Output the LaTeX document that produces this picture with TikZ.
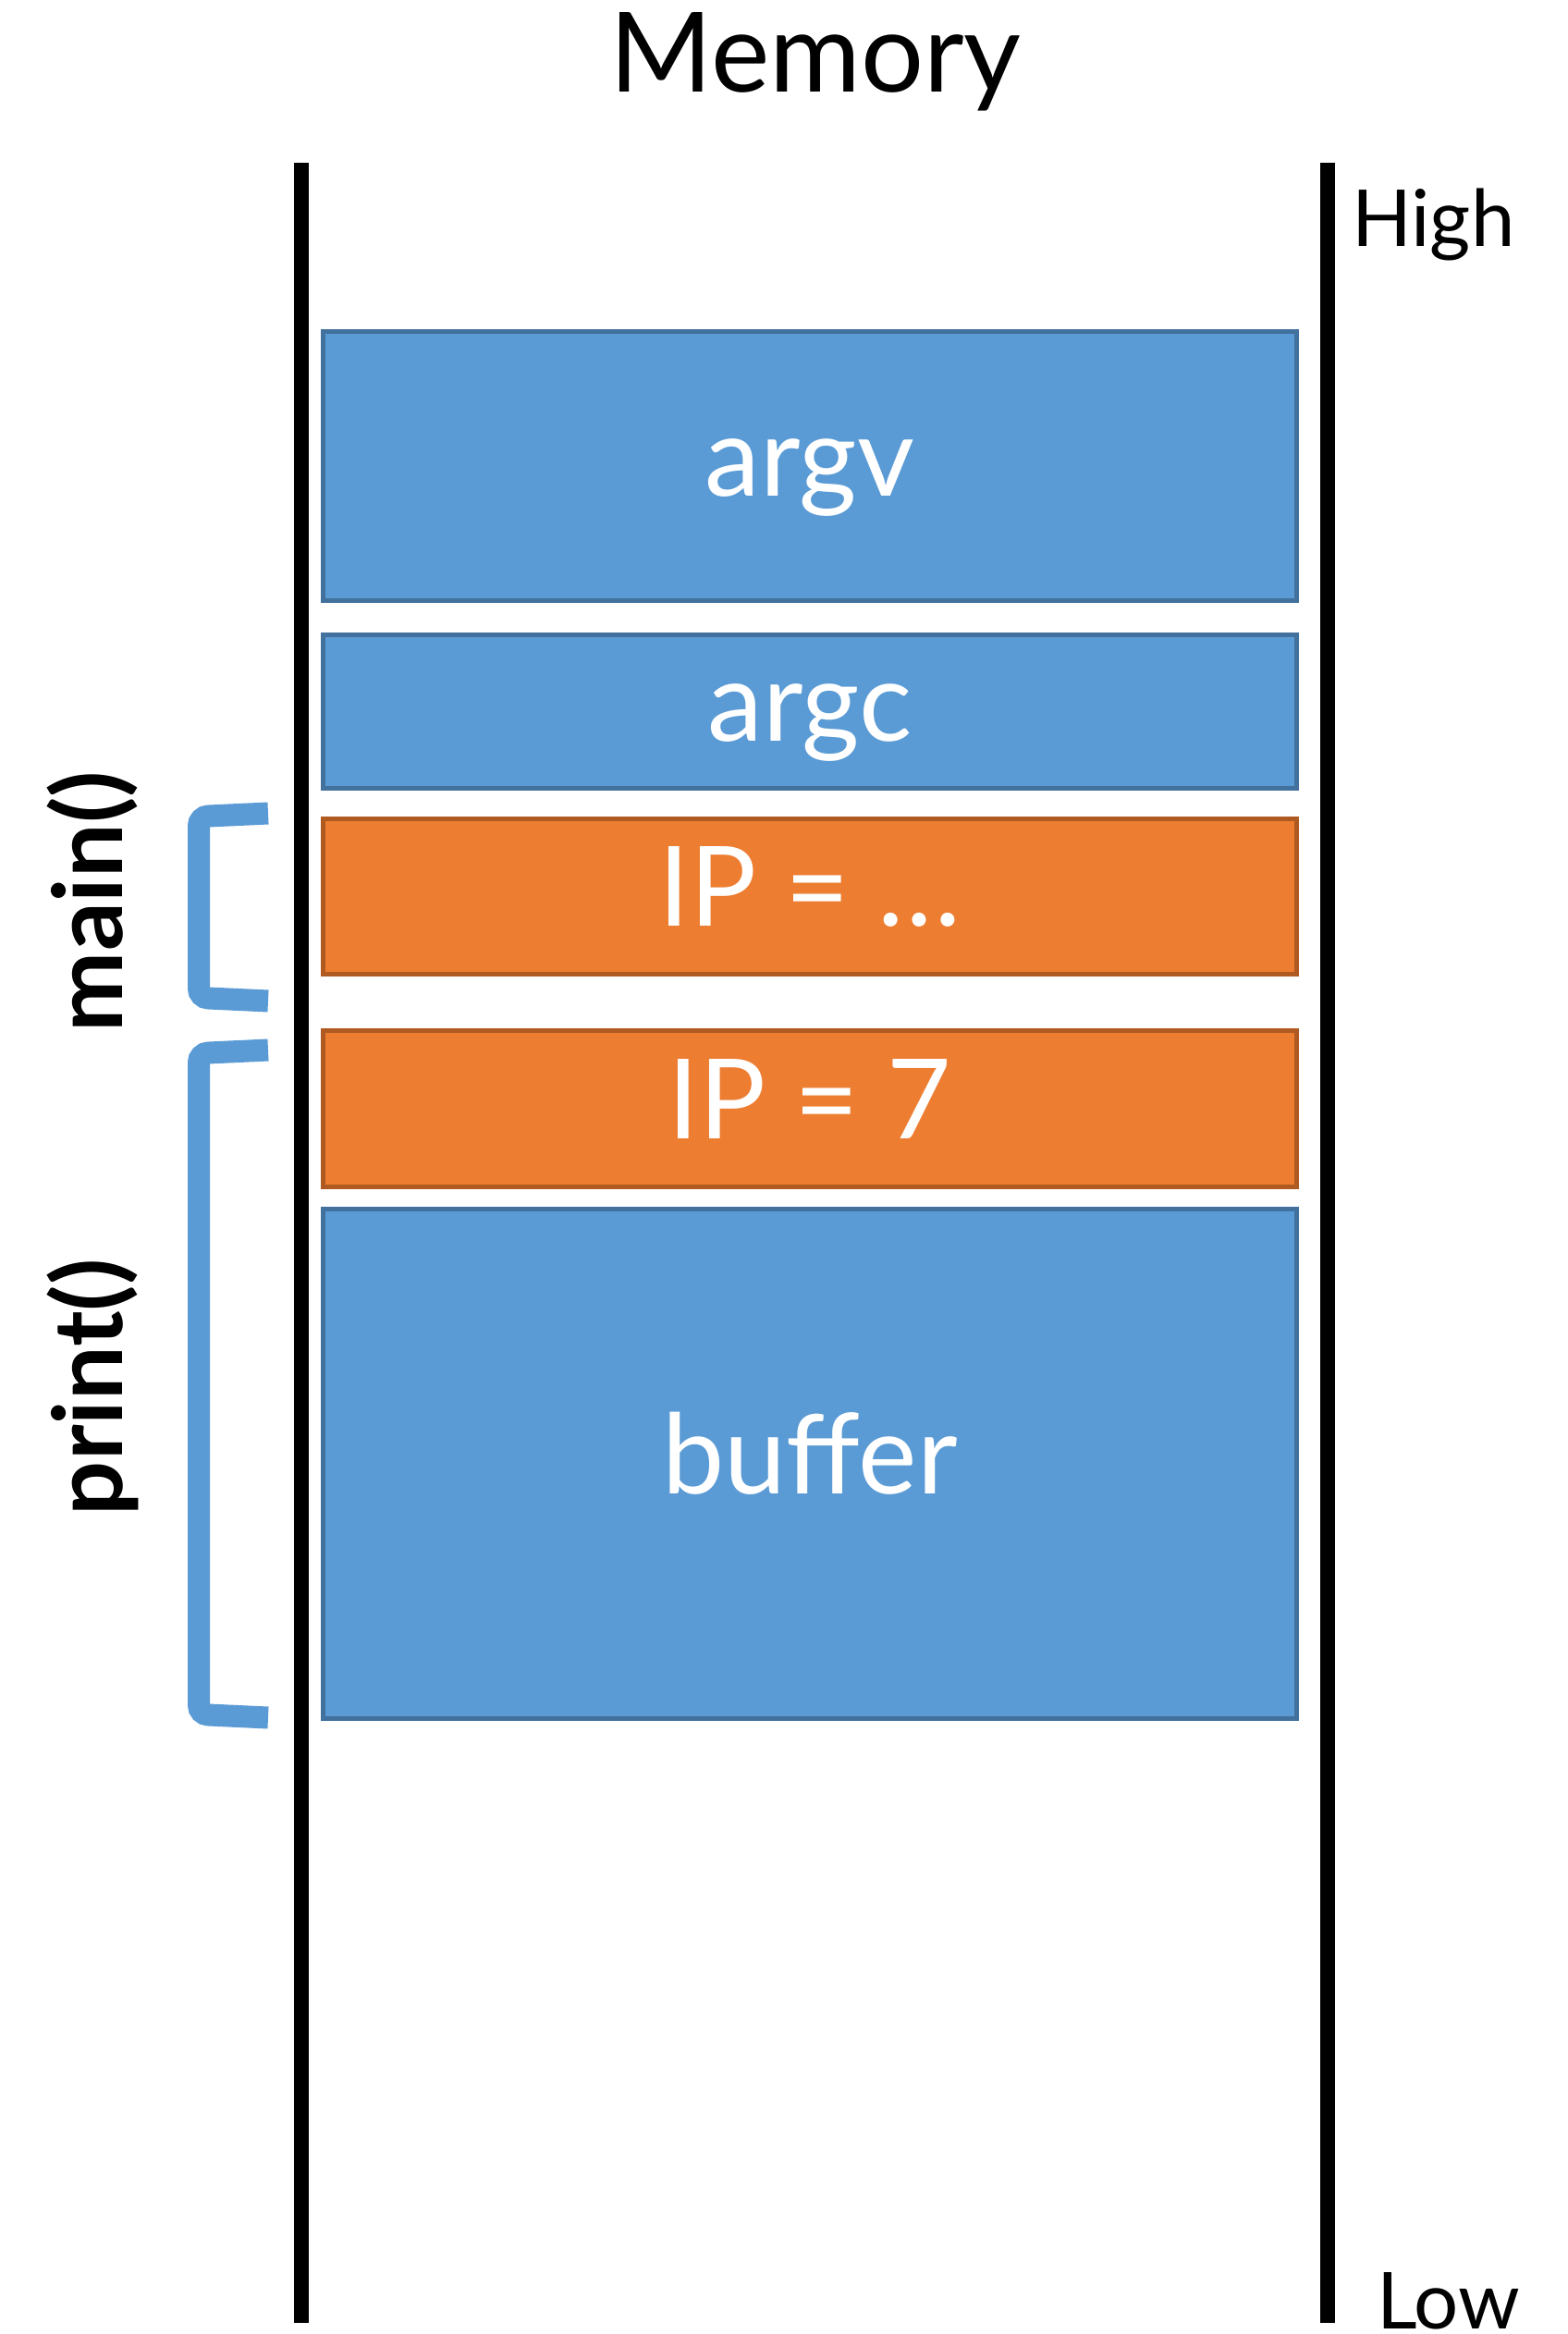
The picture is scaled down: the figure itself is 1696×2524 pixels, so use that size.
\documentclass[tikz,border=0pt]{standalone}
\usepackage{fontspec}
\setmainfont{Lato}
\definecolor{cellblue}{HTML}{5B9BD5}
\definecolor{cellblueedge}{HTML}{41719C}
\definecolor{cellorange}{HTML}{ED7D31}
\definecolor{cellorangeedge}{HTML}{AE5A21}
\begin{document}
\begin{tikzpicture}[x=1pt,y=-1pt,
  cell/.style={draw, line width=5pt, minimum width=1053pt, inner sep=0pt,
    text=white, font=\fontsize{120}{144}\selectfont,
    text height=64pt, text depth=0pt},
  bluecell/.style={cell, fill=cellblue, draw=cellblueedge},
  orangecell/.style={cell, fill=cellorange, draw=cellorangeedge},
  rail/.style={line width=16pt, black},
  framebrace/.style={draw=cellblue, line width=24pt, rounded corners=10pt},
  framelabel/.style={font=\bfseries\fontsize{104}{120}\selectfont,
    rotate=90, anchor=base, inner sep=0pt},
  sidelabel/.style={font=\fontsize{85}{100}\selectfont, anchor=base west, inner sep=0pt}]
\useasboundingbox (0,0) rectangle (1696,2524);

% title
\node[font=\fontsize{120}{144}\selectfont, anchor=base, inner sep=0pt] (title) at (882,99) {Memory};

% address-space rails
\coordinate (lefttop) at (326,176);
\coordinate (leftbot) at (326,2512);
\coordinate (righttop) at (1436,176);
\coordinate (rightbot) at (1436,2512);
\draw[rail] (lefttop) -- (leftbot);
\draw[rail] (righttop) -- (rightbot);
\node[sidelabel] (high) at (1462,266) {High};
\node[sidelabel] (low) at (1489,2518) {Low};

% stack cells
\node[bluecell, minimum height=291pt] (argv) at (876,504) {argv};
\node[bluecell, minimum height=166pt] (argc) at (876,769.5) {argc};
\node[orangecell, minimum height=168pt] (ipmain) at (876,969.5) {IP = …};
\node[orangecell, minimum height=169pt] (ipprint) at (876,1199) {IP = 7};
\node[bluecell, minimum height=551pt] (buffer) at (876,1583) {buffer};

% stack frames
\draw[framebrace] (290,879.5) -- (215,883) -- (215,1079) -- (290,1082.5);
\draw[framebrace] (290,1135.5) -- (215,1139) -- (215,1854) -- (290,1857.5);
\node[framelabel] (mainlabel) at (132,975) {main()};
\node[framelabel] (printlabel) at (132,1500) {print()};
\end{tikzpicture}
\end{document}
